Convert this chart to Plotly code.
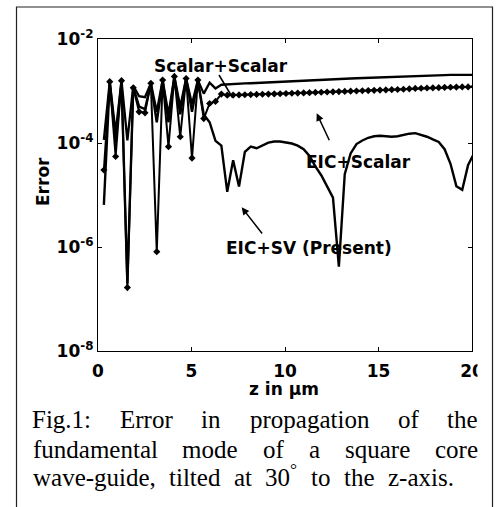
import plotly.graph_objects as go

# propagation distance samples (um)
z_um = [0.314, 0.628, 0.942, 1.257, 1.571, 1.885, 2.199, 2.513, 2.827, 3.142,
        3.456, 3.770, 4.084, 4.398, 4.712, 5.027, 5.341, 5.655, 5.969, 6.283,
        6.597, 6.912, 7.226, 7.540, 7.854, 8.168, 8.482, 8.796, 9.111, 9.425,
        9.739, 10.053, 10.367, 10.681, 10.996, 11.310, 11.624, 11.938, 12.252, 12.566,
        12.881, 13.195, 13.509, 13.823, 14.137, 14.451, 14.765, 15.080, 15.394, 15.708,
        16.022, 16.336, 16.650, 16.965, 17.279, 17.593, 17.907, 18.221, 18.535, 18.850,
        19.164, 19.478, 19.792, 20.106]

err_scalar_scalar = [1.15e-4, 1.51e-3, 1.58e-4, 1.58e-3, 1.12e-4, 1.26e-3, 7.94e-4, 7.59e-4, 1.41e-3, 3.98e-4,
                     1.62e-3, 3.55e-4, 1.91e-3, 5.01e-4, 1.74e-3, 5.62e-4, 1.62e-3, 8.91e-4, 1.45e-3, 1.12e-3,
                     1.32e-3, 1.35e-3, 1.36e-3, 1.38e-3, 1.40e-3, 1.41e-3, 1.43e-3, 1.45e-3, 1.46e-3, 1.48e-3,
                     1.50e-3, 1.51e-3, 1.53e-3, 1.55e-3, 1.57e-3, 1.58e-3, 1.60e-3, 1.62e-3, 1.66e-3, 1.68e-3,
                     1.70e-3, 1.72e-3, 1.74e-3, 1.76e-3, 1.78e-3, 1.80e-3, 1.82e-3, 1.84e-3, 1.86e-3, 1.88e-3,
                     1.91e-3, 1.92e-3, 1.93e-3, 1.95e-3, 1.96e-3, 1.97e-3, 2.00e-3, 2.01e-3, 2.02e-3, 2.04e-3,
                     2.04e-3, 2.04e-3, 2.04e-3, 2.04e-3]

err_eic_scalar = [3.02e-5, 1.51e-3, 5.50e-5, 1.58e-3, 1.66e-7, 1.15e-3, 3.98e-4, 3.80e-4, 1.41e-3, 8.13e-7,
                  1.62e-3, 8.51e-5, 1.91e-3, 1.32e-4, 1.74e-3, 5.13e-5, 1.62e-3, 2.95e-4, 5.75e-4, 6.31e-4,
                  8.71e-4, 8.32e-4, 8.36e-4, 8.41e-4, 8.47e-4, 8.53e-4, 8.59e-4, 8.65e-4, 8.71e-4, 8.79e-4,
                  8.87e-4, 8.95e-4, 9.04e-4, 9.12e-4, 9.20e-4, 9.29e-4, 9.38e-4, 9.46e-4, 9.55e-4, 9.64e-4,
                  9.73e-4, 9.82e-4, 9.91e-4, 1.00e-3, 1.01e-3, 1.02e-3, 1.03e-3, 1.04e-3, 1.05e-3, 1.06e-3,
                  1.07e-3, 1.08e-3, 1.10e-3, 1.12e-3, 1.13e-3, 1.14e-3, 1.15e-3, 1.16e-3, 1.17e-3, 1.18e-3,
                  1.19e-3, 1.20e-3, 1.20e-3, 1.21e-3]

err_eic_sv = [6.46e-6, 1.51e-3, 1.00e-4, 1.58e-3, 2.00e-7, 1.20e-3, 5.01e-4, 4.47e-4, 1.41e-3, 2.51e-4,
              1.62e-3, 2.51e-4, 1.91e-3, 3.55e-4, 1.74e-3, 3.98e-4, 1.58e-3, 3.55e-4, 2.51e-4, 1.10e-4,
              8.91e-5, 1.15e-5, 4.68e-5, 1.45e-5, 6.76e-5, 8.51e-5, 7.94e-5, 9.12e-5, 1.02e-4, 1.07e-4,
              1.07e-4, 1.02e-4, 9.77e-5, 8.91e-5, 7.59e-5, 5.62e-5, 3.55e-5, 2.40e-5, 1.41e-5, 8.91e-6,
              4.17e-7, 2.51e-5, 6.31e-5, 9.55e-5, 1.12e-4, 1.26e-4, 1.35e-4, 1.38e-4, 1.35e-4, 1.32e-4,
              1.35e-4, 1.45e-4, 1.51e-4, 1.55e-4, 1.45e-4, 1.32e-4, 1.17e-4, 1.05e-4, 7.59e-5, 3.98e-5,
              1.48e-5, 1.26e-5, 3.80e-5, 6.31e-5]

x_ticks = [0, 5, 10, 15, 20]
y_ticks = [1e-8, 1e-6, 1e-4, 1e-2]
y_tick_text = ["10<sup>-8</sup>", "10<sup>-6</sup>", "10<sup>-4</sup>", "10<sup>-2</sup>"]

caption_lines = [
    ["Fig.1:", "Error", "in", "propagation", "of", "the"],
    ["fundamental", "mode", "of", "a", "square", "core"],
    ["wave-guide,", "tilted", "at", "30<sup>°</sup>", "to", "the", "z-axis."],
]

# page geometry (pixels)
W, H = 496, 507
PL, PR, PT, PB = 98, 472, 39, 351


def px(x):
    return (x - PL) / (PR - PL)


def py(y):
    return (PB - y) / (PB - PT)


SANS = "DejaVu Sans"
SERIF = "Liberation Serif"

fig = go.Figure()
fig.add_trace(go.Scatter(x=z_um, y=err_scalar_scalar, mode="lines", name="Scalar+Scalar",
                         line=dict(color="black", width=2.3)))
fig.add_trace(go.Scatter(x=z_um, y=err_eic_sv, mode="lines", name="EIC+SV (Present)",
                         line=dict(color="black", width=2.4)))
fig.add_trace(go.Scatter(x=z_um, y=err_eic_scalar, mode="lines+markers", name="EIC+Scalar",
                         line=dict(color="black", width=2),
                         marker=dict(symbol="diamond", size=5.5, color="black")))

fig.update_layout(
    width=W, height=H,
    margin=dict(l=PL, r=W - PR, t=PT, b=H - PB),
    paper_bgcolor="white", plot_bgcolor="white",
    showlegend=False,
    xaxis=dict(range=[0, 20], tickvals=x_ticks, ticks="inside", ticklen=4,
               tickcolor="black", showline=True, linecolor="black", linewidth=1.3,
               mirror="ticks", showgrid=False, zeroline=False,
               tickfont=dict(family=SANS, size=17, color="black", weight="bold"),
               ticklabelstandoff=4),
    yaxis=dict(type="log", range=[-8, -2], tickvals=y_ticks, ticktext=y_tick_text,
               ticks="inside", ticklen=4, tickcolor="black", showline=True,
               linecolor="black", linewidth=1.3, mirror="ticks", showgrid=False,
               zeroline=False,
               tickfont=dict(family=SANS, size=17, color="black", weight="bold")),
)

lab_font = dict(family=SANS, size=17, color="black", weight="bold")
annotations = [
    dict(x=px(221), y=py(66), text="Scalar+Scalar"),
    dict(x=px(358), y=py(161.5), text="EIC+Scalar"),
    dict(x=px(309), y=py(248), text="EIC+SV (Present)"),
    dict(x=px(284), y=py(389), text="z in µm"),
    dict(x=px(43), y=py(182), text="Error", textangle=-90),
]
for a in annotations:
    a.update(xref="paper", yref="paper", showarrow=False, font=lab_font,
             xanchor="center", yanchor="middle")

# pointer arrows: (head x, head y, tail x, tail y) in pixels
arrows = [(316.7, 113.3, 330, 141.7), (241.7, 207.3, 263.3, 235)]
for hx, hy, tx, ty in arrows:
    annotations.append(dict(xref="paper", yref="paper", x=px(hx), y=py(hy), text="",
                            showarrow=True, arrowhead=2, arrowsize=1, arrowwidth=1.5,
                            arrowcolor="black", ax=tx - hx, ay=ty - hy, standoff=0,
                            startstandoff=0))

# caption set in a Times-metric serif, words spread evenly across each line
CAP_SIZE = 25
TIMES_ADV = {"F": 556, "i": 278, "g": 500, ".": 250, "1": 500, ":": 278, "E": 611, "r": 333,
             "o": 500, "n": 500, "p": 500, "a": 444, "t": 278, "f": 333, "h": 500, "u": 500,
             "d": 500, "m": 778, "l": 278, "e": 444, "s": 389, "q": 500, "c": 444, "w": 722,
             "v": 500, "-": 333, ",": 250, "z": 444, "x": 500, "3": 500, "0": 500}


def word_width(word):
    plain = word.replace("<sup>°</sup>", "")
    units = sum(TIMES_ADV.get(ch, 500) for ch in plain)
    if "<sup>" in word:
        units += 0.7 * 400
    return units / 1000 * CAP_SIZE


cap_font = dict(family=SERIF, size=CAP_SIZE, color="black")
line_specs = [(31, 477, 434), (31.5, 477, 463.5), (31.5, 453, 492)]
for words, (x_start, x_end, y_bottom) in zip(caption_lines, line_specs):
    widths = [word_width(w) for w in words]
    gap = (x_end - x_start - sum(widths)) / (len(words) - 1)
    x_cur = x_start
    for w, wd in zip(words, widths):
        annotations.append(dict(xref="paper", yref="paper", x=px(x_cur), y=py(y_bottom), text=w,
                                showarrow=False, font=cap_font, xanchor="left", yanchor="bottom",
                                borderpad=0))
        x_cur += wd + gap
fig.update_layout(annotations=annotations)

# short leader line under the "Scalar+Scalar" label
fig.add_shape(type="line", xref="paper", yref="paper",
              x0=px(219), y0=py(75), x1=px(232.5), y1=py(97.5),
              line=dict(color="black", width=1.5))
# frame around the figure and caption, open at the bottom
fig.add_shape(type="path", xref="paper", yref="paper",
              path=f"M {px(16.5)} {py(520)} L {px(16.5)} {py(7)} L {px(492.5)} {py(7)} L {px(492.5)} {py(520)}",
              line=dict(color="#222", width=1.2))
# the rightmost tick label is cut off at the edge of the figure
fig.add_shape(type="rect", xref="paper", yref="paper", layer="above",
              x0=px(477.5), x1=px(491), y0=py(385), y1=py(354),
              fillcolor="white", line=dict(width=0))

fig.write_html("out.html")
